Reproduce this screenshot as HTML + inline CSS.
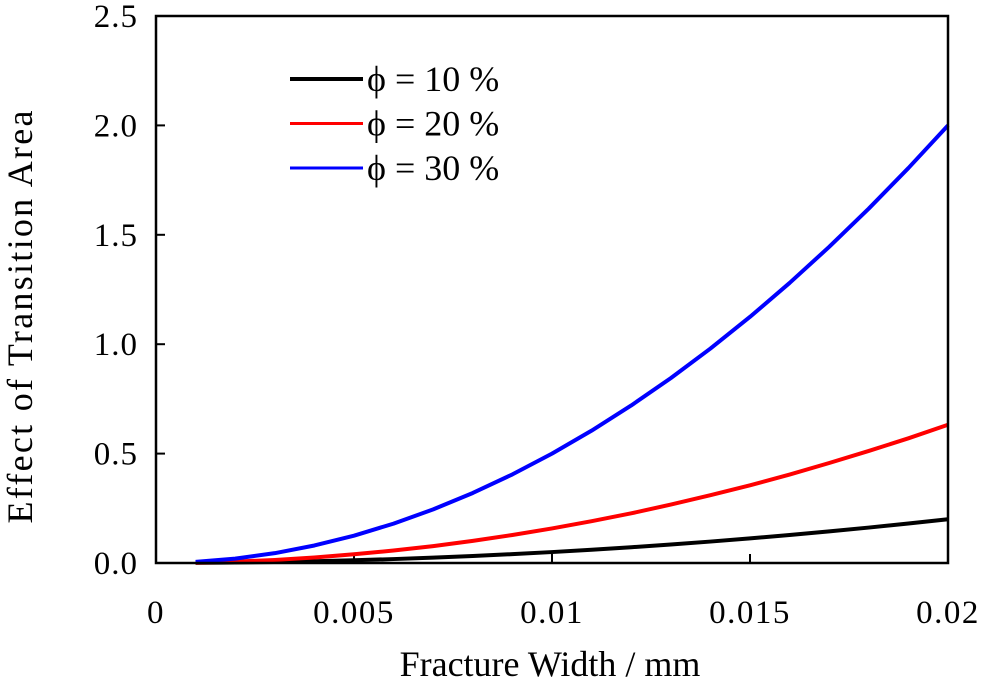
<!DOCTYPE html>
<html><head><meta charset="utf-8"><style>
body{margin:0;background:#fff}
svg{display:block;font-family:"Liberation Serif",serif}
</style></head><body>
<svg width="986" height="680">
<g id="plot"></g>
</svg>
<script>
const xs=[0.001,0.002,0.003,0.004,0.005,0.006,0.007,0.008,0.009,0.010,0.011,0.012,0.013,0.014,0.015,0.016,0.017,0.018,0.019,0.020];
const phi10=[0.0005,0.002,0.0045,0.008,0.0125,0.018,0.0245,0.032,0.0405,0.05,0.0605,0.072,0.0845,0.098,0.1125,0.128,0.1445,0.162,0.1805,0.2];
const phi20=[0.0016,0.0063,0.014,0.025,0.040,0.057,0.077,0.101,0.128,0.158,0.191,0.227,0.267,0.31,0.355,0.404,0.457,0.512,0.57,0.632];
const phi30=[0.005,0.02,0.045,0.08,0.125,0.18,0.245,0.32,0.405,0.5,0.605,0.72,0.845,0.98,1.125,1.28,1.445,1.62,1.805,2.0];
const xTicks=[0,0.005,0.01,0.015,0.02];
const xTickLabels=["0","0.005","0.01","0.015","0.02"];
const yTicks=[0,0.5,1,1.5,2,2.5];
const yTickLabels=["0.0","0.5","1.0","1.5","2.0","2.5"];
const seriesNames=["ϕ = 10 %","ϕ = 20 %","ϕ = 30 %"];

const L=156,R=948,T=16,B=563;
const sx=v=>L+(v-0)/0.02*(R-L);
const sy=v=>B-v/2.5*(B-T);
const g=document.getElementById('plot');
const NS="http://www.w3.org/2000/svg";
function mk(t,a){const e=document.createElementNS(NS,t);for(const k in a)e.setAttribute(k,a[k]);g.appendChild(e);return e;}

xTicks.forEach((v,i)=>{
  if(i>0&&i<xTicks.length-1){const t=mk('line',{x1:sx(v),x2:sx(v),y1:B,y2:B-9,stroke:'#000','stroke-width':2});
  
  }
  const l=mk('text',{x:sx(v),y:623,'text-anchor':'middle','font-size':33,'letter-spacing':1.5});
  l.textContent=xTickLabels[i];
  
  
});
yTicks.forEach((v,i)=>{
  if(i>0&&i<yTicks.length-1){const t=mk('line',{x1:L,x2:L+9,y1:sy(v),y2:sy(v),stroke:'#000','stroke-width':2});
  
  }
  const l=mk('text',{x:138,y:sy(v)+11,'text-anchor':'end','font-size':33,'letter-spacing':1});
  l.textContent=yTickLabels[i];
  
  
});

const cols=['#000','#f00','#00f'];
[phi10,phi20,phi30].forEach((s,k)=>{
  const p=mk('polyline',{points:xs.map((x,i)=>sx(x)+','+sy(s[i])).join(' '),fill:'none',stroke:cols[k],'stroke-width':4,'stroke-linejoin':'round'});
  
  
  const y=79+k*44.5;
  const ll=mk('line',{x1:290,x2:363,y1:y,y2:y,stroke:cols[k],'stroke-width':k==0?4:3});
  
  
  const lt=mk('text',{x:367,y:y+12,'font-size':36});
  lt.textContent=seriesNames[k];
  
  
});

const fr=mk('rect',{x:L,y:T,width:R-L,height:B-T,fill:'none',stroke:'#000','stroke-width':2.5});


const xt=mk('text',{x:550,y:676,'text-anchor':'middle','font-size':36});
xt.textContent="Fracture Width / mm";


const yt=mk('text',{x:0,y:0,'text-anchor':'middle','font-size':36,textLength:413,lengthAdjust:'spacing',transform:'translate(32,317) rotate(-90)'});
yt.textContent="Effect of  Transition Area";


</script>
</body></html>
